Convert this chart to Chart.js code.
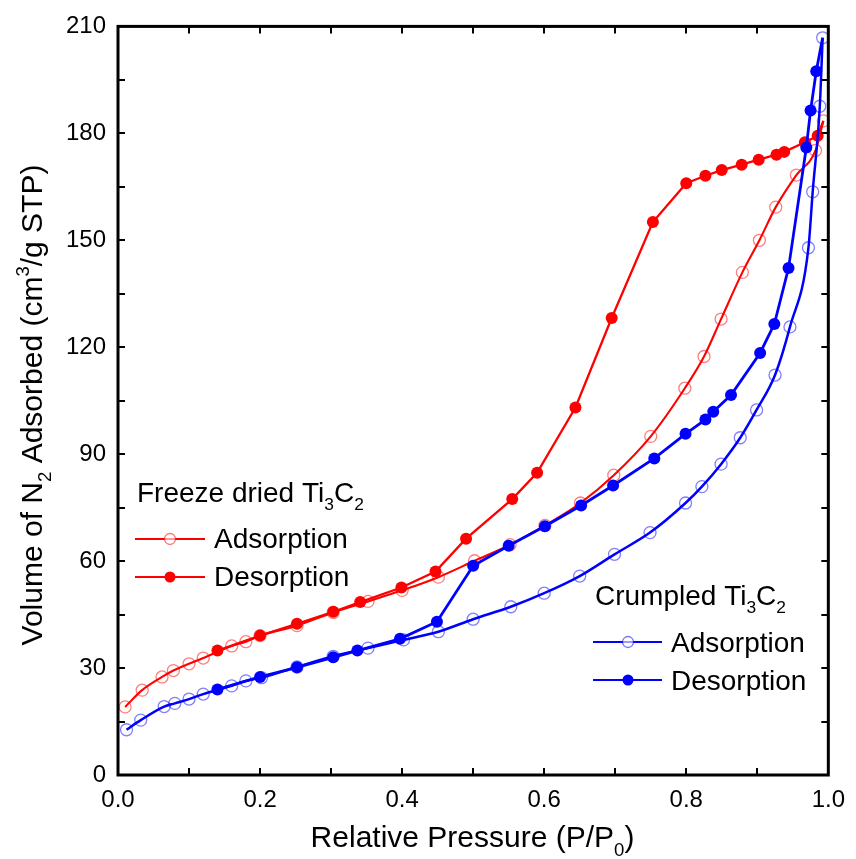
<!DOCTYPE html>
<html>
<head>
<meta charset="utf-8">
<script src="https://cdn.jsdelivr.net/npm/chart.js@4.4.1/dist/chart.umd.min.js"></script>
<style>
html,body{margin:0;padding:0;background:#fff;}
#wrap{width:856px;height:859px;}
</style>
</head>
<body>
<div id="wrap"><canvas id="c" width="856" height="859"></canvas></div>
<script>
// ---- data ----
const freezeAds = [
  [0.010,19.1],[0.034,23.8],[0.062,27.5],[0.078,29.3],[0.100,31.2],[0.120,32.8],
  [0.160,36.2],[0.180,37.4],[0.200,39.1],[0.252,41.9],[0.303,45.6],[0.352,48.7],
  [0.400,51.8],[0.451,55.5],[0.502,60.1],[0.552,64.6],[0.601,70.0],[0.651,76.3],
  [0.698,84.1],[0.750,95.0],[0.798,108.5],[0.825,117.4],[0.849,127.9],[0.879,141.0],
  [0.903,150.0],[0.926,159.3],[0.955,168.3],[0.982,175.2],[0.993,183.5]
];
const freezeDes = [
  [0.993,183.5],[0.985,179.3],[0.967,177.5],[0.938,174.8],[0.927,174.0],[0.902,172.6],
  [0.878,171.2],[0.850,169.7],[0.827,168.1],[0.800,166.0],[0.753,155.1],[0.695,128.2],
  [0.644,103.1],[0.590,84.8],[0.555,77.4],[0.490,66.3],[0.447,57.1],[0.399,52.6],
  [0.341,48.5],[0.303,45.8],[0.252,42.4],[0.200,39.1],[0.140,34.9]
];
const crumpledAds = [
  [0.012,12.7],[0.032,15.4],[0.065,19.2],[0.080,20.1],[0.100,21.3],[0.120,22.7],
  [0.160,25.0],[0.180,26.4],[0.202,27.3],[0.252,30.3],[0.303,33.3],[0.352,35.6],
  [0.402,37.9],[0.451,40.2],[0.500,43.7],[0.553,47.2],[0.600,51.0],[0.650,55.8],
  [0.699,61.9],[0.749,68.0],[0.799,76.3],[0.822,80.9],[0.849,87.2],[0.876,94.6],
  [0.899,102.4],[0.925,112.2],[0.946,125.7],[0.972,147.9],[0.978,163.6],[0.988,187.6],
  [0.992,206.8]
];
const crumpledDes = [
  [0.992,206.8],[0.983,197.4],[0.975,186.4],[0.969,176.0],[0.944,142.2],[0.924,126.5],
  [0.904,118.4],[0.863,106.6],[0.838,101.9],[0.827,99.7],[0.799,95.7],[0.755,88.8],
  [0.697,81.2],[0.652,75.6],[0.601,69.8],[0.550,64.3],[0.500,58.7],[0.449,43.0],
  [0.397,38.2],[0.337,34.9],[0.303,33.0],[0.252,30.2],[0.200,27.5],[0.140,24.0]
];
const xTickLabels = ['0.0','0.2','0.4','0.6','0.8','1.0'];
const yTickLabels = ['0','30','60','90','120','150','180','210'];
const groupTitles = ['Freeze dried Ti', 'Crumpled Ti'];
const seriesNames = ['Adsorption', 'Desorption'];

const toXY = a => a.map(p => ({x: p[0], y: p[1]}));
const RED = '#ff0000', BLUE = '#0000ff';
const FONT = "'Liberation Sans', Arial, sans-serif";

// draw text with sub/superscripts
function richText(ctx, segs, size, measureOnly) {
  let w = 0;
  for (const s of segs) {
    const fs = (s.sub || s.sup) ? size * 0.62 : size;
    ctx.font = fs + 'px ' + FONT;
    const tw = ctx.measureText(s.t).width;
    if (!measureOnly) {
      const dy = s.sub ? size * 0.3 : (s.sup ? -size * 0.42 : 0);
      ctx.fillText(s.t, w, dy);
    }
    w += tw;
  }
  return w;
}

const decorPlugin = {
  id: 'decor',
  afterDatasetsDraw(chart) {
    const ctx = chart.ctx, a = chart.chartArea;
    const xs = chart.scales.x, ys = chart.scales.y;
    ctx.save();
    ctx.strokeStyle = '#000';
    ctx.lineWidth = 2;
    // inward ticks on all four sides
    const TL = 7;
    ctx.beginPath();
    for (let i = 1; i < 10; i++) {
      const px = Math.round(xs.getPixelForValue(i / 10));
      ctx.moveTo(px, a.bottom); ctx.lineTo(px, a.bottom - TL);
      ctx.moveTo(px, a.top); ctx.lineTo(px, a.top + TL);
    }
    for (let v = 15; v < 210; v += 15) {
      const py = Math.round(ys.getPixelForValue(v));
      ctx.moveTo(a.left, py); ctx.lineTo(a.left + TL, py);
      ctx.moveTo(a.right, py); ctx.lineTo(a.right - TL, py);
    }
    ctx.stroke();
    // frame
    ctx.lineWidth = 3;
    ctx.strokeRect(a.left, a.top, a.right - a.left, a.bottom - a.top);

    ctx.fillStyle = '#000';
    ctx.textBaseline = 'alphabetic';
    ctx.textAlign = 'left';
    // x title
    const xt = [{t:'Relative Pressure (P/P'},{t:'0',sub:true},{t:')'}];
    const xw = richText(ctx, xt, 30, true);
    ctx.save(); ctx.translate(472.5 - xw / 2, 847); richText(ctx, xt, 30); ctx.restore();
    // y title
    const yt = [{t:'Volume of N'},{t:'2',sub:true},{t:' Adsorbed (cm'},{t:'3',sup:true},{t:'/g STP)'}];
    const yw = richText(ctx, yt, 30, true);
    ctx.save(); ctx.translate(42, 405 + yw / 2); ctx.rotate(-Math.PI / 2); richText(ctx, yt, 30); ctx.restore();

    // legends
    function legendGroup(title, x0, base, lx0, lx1, mx, rows, color, openColor) {
      ctx.save(); ctx.translate(x0, base);
      richText(ctx, [{t:title},{t:'3',sub:true},{t:'C'},{t:'2',sub:true}], 28);
      ctx.restore();
      rows.forEach((r, i) => {
        ctx.strokeStyle = color; ctx.lineWidth = 2.2;
        ctx.beginPath(); ctx.moveTo(lx0, r.ly); ctx.lineTo(lx1, r.ly); ctx.stroke();
        ctx.beginPath(); ctx.arc(mx, r.ly, 5.5, 0, Math.PI * 2);
        if (i === 0) { ctx.fillStyle = 'rgba(255,255,255,0.6)'; ctx.fill(); ctx.strokeStyle = openColor; ctx.lineWidth = 1.3; ctx.stroke(); }
        else { ctx.fillStyle = color; ctx.fill(); }
        ctx.fillStyle = '#000';
        ctx.font = '28px ' + FONT;
        ctx.fillText(seriesNames[i], r.tx, r.tb);
      });
    }
    legendGroup(groupTitles[0], 137, 502, 135, 205, 170,
      [{ly:539, tx:214, tb:548},{ly:577, tx:214, tb:586}], RED, 'rgba(255,0,0,0.55)');
    legendGroup(groupTitles[1], 595, 605, 593, 662, 628,
      [{ly:642, tx:671, tb:652},{ly:680, tx:671, tb:690}], BLUE, 'rgba(0,0,255,0.55)');
    ctx.restore();
  }
};

const hideFirst = ctx => ctx.dataIndex === 0 ? 0 : 6;

new Chart(document.getElementById('c'), {
  type: 'line',
  data: {
    datasets: [
      { label: 'Crumpled Desorption', data: toXY(crumpledDes), order: 0,
        borderColor: BLUE, backgroundColor: BLUE, borderWidth: 2.8,
        pointRadius: hideFirst, pointBackgroundColor: BLUE, pointBorderWidth: 0, tension: 0 },
      { label: 'Crumpled Adsorption', data: toXY(crumpledAds), order: 1,
        borderColor: BLUE, borderWidth: 2.5, cubicInterpolationMode: 'monotone',
        pointRadius: 6, pointBackgroundColor: 'rgba(0,0,0,0)',
        pointBorderColor: 'rgba(0,0,255,0.5)', pointBorderWidth: 1.3 },
      { label: 'Freeze Desorption', data: toXY(freezeDes), order: 2,
        borderColor: RED, backgroundColor: RED, borderWidth: 2.3,
        pointRadius: hideFirst, pointBackgroundColor: RED, pointBorderWidth: 0, tension: 0 },
      { label: 'Freeze Adsorption', data: toXY(freezeAds), order: 3,
        borderColor: RED, borderWidth: 2.1, cubicInterpolationMode: 'monotone',
        pointRadius: 6, pointBackgroundColor: 'rgba(0,0,0,0)',
        pointBorderColor: 'rgba(255,0,0,0.5)', pointBorderWidth: 1.3 }
    ]
  },
  options: {
    responsive: false,
    animation: false,
    clip: 10,
    layout: { padding: { top: 18, right: 20, left: 0, bottom: 0 } },
    plugins: { legend: { display: false }, tooltip: { enabled: false } },
    scales: {
      x: {
        type: 'linear', min: 0, max: 1,
        afterFit: s => { s.height = 84; },
        grid: { display: false, drawTicks: false },
        border: { display: false },
        ticks: {
          stepSize: 0.1, padding: 11, color: '#000', font: { size: 24, family: FONT },
          autoSkip: false, maxRotation: 0,
          callback: v => { const k = Math.round(v * 10); return k % 2 === 0 ? xTickLabels[k / 2] : ''; }
        }
      },
      y: {
        type: 'linear', min: 0, max: 210,
        afterFit: s => { s.width = 118; },
        grid: { display: false, drawTicks: false },
        border: { display: false },
        ticks: {
          stepSize: 15, padding: 12, color: '#000', font: { size: 24, family: FONT },
          autoSkip: false,
          callback: v => { const k = Math.round(v); return k % 30 === 0 ? yTickLabels[k / 30] : ''; }
        }
      }
    }
  },
  plugins: [decorPlugin]
});
</script>
</body>
</html>
